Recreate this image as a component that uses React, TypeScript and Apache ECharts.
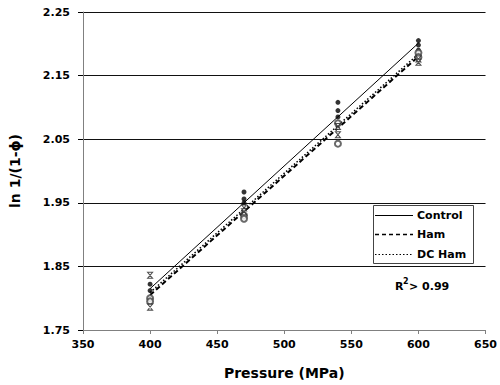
import React, { useEffect, useRef } from "react";
import * as echarts from "echarts";

const xTicks = { min: 350, max: 650, interval: 50 };
const yTicks = { min: 1.75, max: 2.25, interval: 0.1 };

const controlPoints: [number, number][] = [
  [400, 1.822], [400, 1.812], [470, 1.967], [470, 1.956], [470, 1.95],
  [540, 2.108], [540, 2.095], [540, 2.085], [600, 2.205], [600, 2.198], [600, 2.19],
];
const hamPoints: [number, number][] = [
  [400, 1.8], [400, 1.795], [470, 1.93], [470, 1.925],
  [540, 2.043], [540, 2.075], [600, 2.186], [600, 2.179],
];
const dcHamPoints: [number, number][] = [
  [400, 1.836], [400, 1.786], [470, 1.942], [470, 1.936],
  [540, 2.057], [540, 2.07], [600, 2.176], [600, 2.171],
];

const controlFit: [number, number][] = [[400, 1.815], [600, 2.201]];
const hamFit: [number, number][] = [[400, 1.805], [600, 2.18]];
const dcHamFit: [number, number][] = [[400, 1.809], [600, 2.184]];

const seriesNames = ["Control", "Ham", "DC Ham"];
const xName = "Pressure (MPa)";
const yName = "ln 1/(1-ϕ)";
const r2Text = "> 0.99";

const FONT = "'DejaVu Sans', 'Liberation Sans', Arial, sans-serif";

const lineStyles = [
  { lineWidth: 1, lineDash: null as number[] | null },
  { lineWidth: 1.5, lineDash: [4, 3] },
  { lineWidth: 1.2, lineDash: [1.5, 2] },
];

export default function App() {
  const ref = useRef<HTMLDivElement>(null);
  useEffect(() => {
    if (!ref.current) return;
    const chart = echarts.init(ref.current, null, { renderer: "svg" });
    const hourglass = "path://M0,0 L10,0 L0,10 L10,10 Z";
    const legendX = 373, legendY = 205, legendW = 100, legendH = 58;
    const rowY = [215, 234, 254];
    const legendGraphics: any[] = [
      {
        type: "rect",
        shape: { x: legendX + 0.5, y: legendY + 0.5, width: legendW, height: legendH },
        style: { fill: "#fff", stroke: "#444", lineWidth: 1 },
        z: 10,
      },
    ];
    seriesNames.forEach((n, i) => {
      legendGraphics.push({
        type: "line",
        shape: { x1: 375, y1: rowY[i] + 0.5, x2: 413, y2: rowY[i] + 0.5 },
        style: { stroke: "#000", lineWidth: lineStyles[i].lineWidth, lineDash: lineStyles[i].lineDash },
        z: 11,
      });
      legendGraphics.push({
        type: "text",
        x: 417,
        y: rowY[i],
        style: { text: n, font: `bold 11px ${FONT}`, fill: "#000", verticalAlign: "middle", align: "left" },
        z: 11,
      });
    });
    chart.setOption({
      animation: false,
      backgroundColor: "#fff",
      grid: { left: 79, right: 12, top: 12, bottom: 54 },
      xAxis: {
        type: "value",
        min: xTicks.min,
        max: xTicks.max,
        interval: xTicks.interval,
        name: xName,
        nameLocation: "middle",
        nameGap: 36,
        nameTextStyle: { fontFamily: FONT, fontWeight: "bold", fontSize: 14, color: "#000" },
        axisLine: { lineStyle: { color: "#808080", width: 1 } },
        axisTick: { show: true, length: 4, lineStyle: { color: "#808080" } },
        axisLabel: { fontFamily: FONT, fontWeight: "bold", fontSize: 11, color: "#000", margin: 9 },
        splitLine: { show: false },
      },
      yAxis: {
        type: "value",
        min: yTicks.min,
        max: yTicks.max,
        interval: yTicks.interval,
        name: yName,
        nameLocation: "middle",
        nameGap: 61,
        nameRotate: 90,
        nameTextStyle: { fontFamily: FONT, fontWeight: "bold", fontSize: 14, color: "#000" },
        axisLine: { show: true, lineStyle: { color: "#808080", width: 1 } },
        axisTick: { show: true, length: 5, lineStyle: { color: "#000" } },
        axisLabel: {
          fontFamily: FONT, fontWeight: "bold", fontSize: 11, color: "#000", margin: 13,
          formatter: (v: number) => v.toFixed(2),
        },
        splitLine: { show: true, lineStyle: { color: "#111", width: 1 } },
      },
      graphic: [
        ...legendGraphics,
        { type: "text", left: 395, top: 281, style: { text: "R", font: `bold 11px ${FONT}`, fill: "#000" } },
        { type: "text", left: 403, top: 277, style: { text: "2", font: `bold 8px ${FONT}`, fill: "#000" } },
        { type: "text", left: 409, top: 281, style: { text: r2Text, font: `bold 11px ${FONT}`, fill: "#000" } },
      ],
      series: [
        {
          name: seriesNames[0], type: "line", data: controlFit, symbol: "none",
          lineStyle: { color: "#000", width: 1, type: "solid" }, z: 3,
        },
        {
          name: seriesNames[1], type: "line", data: hamFit, symbol: "none",
          lineStyle: { color: "#000", width: 2, type: [5, 3] }, z: 3,
        },
        {
          name: seriesNames[2], type: "line", data: dcHamFit, symbol: "none",
          lineStyle: { color: "#000", width: 1.5, type: [1.5, 2] }, z: 3,
        },
        {
          name: "Control data", type: "scatter", data: controlPoints, symbol: "circle", symbolSize: 5,
          itemStyle: { color: "#000" }, z: 4,
        },
        {
          name: "Ham data", type: "scatter", data: hamPoints, symbol: "emptyCircle", symbolSize: 6,
          itemStyle: { color: "#444", borderColor: "#444", borderWidth: 1 }, z: 4,
        },
        {
          name: "DC Ham data", type: "scatter", data: dcHamPoints, symbol: hourglass, symbolSize: [5, 6],
          itemStyle: { color: "#fff", borderColor: "#222", borderWidth: 1 }, z: 4,
        },
      ],
    });
    return () => chart.dispose();
  }, []);
  return (
    <div
      ref={ref}
      style={{ position: "fixed", left: 0, top: 0, width: 500, height: 385 }}
    />
  );
}
